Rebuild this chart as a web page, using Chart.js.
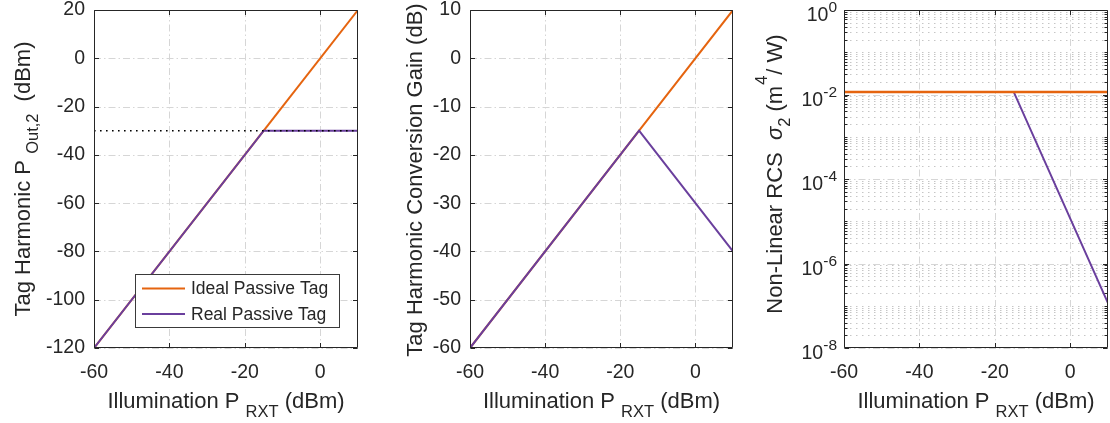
<!DOCTYPE html>
<html><head><meta charset="utf-8">
<script src="https://cdn.jsdelivr.net/npm/chart.js@4.4.1/dist/chart.umd.min.js"></script>
<style>
html,body{margin:0;padding:0;background:#fff;}
#wrap{position:relative;width:1110px;height:423px;overflow:hidden;background:#fff;}
canvas{position:absolute;top:0;}
</style></head><body>
<div id="wrap">
<canvas id="c1" width="370" height="423" style="left:0px"></canvas>
<canvas id="c2" width="370" height="423" style="left:370px"></canvas>
<canvas id="c3" width="370" height="423" style="left:740px"></canvas>
</div>
<script>
// Illumination sweep (dBm): start, compression knee, end
const illumination = [-60, -15, 10];

// Harmonic output power (dBm)
const poutIdeal = [-120, -30, 20];
const poutReal = [-120, -30, -30];
// Saturation level reference (dBm), spanning the whole sweep
const saturationX = [-60, 10];
const saturationY = [-30, -30];

// Harmonic conversion gain (dB)
const gainIdeal = [-60, -15, 10];
const gainReal = [-60, -15, -40];

// Non-linear RCS sigma_2 (m^4/W)
const rcsIdeal = [0.0115, 0.0115, 0.0115];
const rcsReal = [0.0115, 0.0115, 1.15e-7];

// Tick values
const xTickValues = [-60, -40, -20, 0];
const poutTickValues = [-120, -100, -80, -60, -40, -20, 0, 20];
const gainTickValues = [-60, -50, -40, -30, -20, -10, 0, 10];
const rcsTickExponents = [0, -2, -4, -6, -8];

const legendLabels = ['Ideal Passive Tag', 'Real Passive Tag'];

const ORANGE = '#E5640F';
const PURPLE = '#6A3F9D';
const INK = '#262626';
const FONT = '"Liberation Sans", Arial, Helvetica, sans-serif';
const TICK_SIZE = 19.5;
const LABEL_SIZE = 22;
const SUB_SIZE = 16.5;

function pts(xs, ys) { return xs.map((x, i) => ({ x: x, y: ys[i] })); }

function fontStr(p) {
  return (p.italic ? 'italic ' : '') + (p.size || LABEL_SIZE) + 'px ' + FONT;
}

// Draw a run of text pieces (with sub/superscripts) centred on (cx, cy), baseline at cy
function drawRich(ctx, parts, cx, cy, rotated) {
  ctx.save();
  ctx.translate(cx, cy);
  if (rotated) ctx.rotate(-Math.PI / 2);
  ctx.fillStyle = INK;
  ctx.textAlign = 'left';
  ctx.textBaseline = 'alphabetic';
  let total = 0;
  const widths = parts.map(p => {
    ctx.font = fontStr(p);
    const w = (p.t ? ctx.measureText(p.t).width : 0) + (p.gap || 0);
    total += w;
    return w;
  });
  let x = -total / 2;
  parts.forEach((p, i) => {
    ctx.font = fontStr(p);
    if (p.t) ctx.fillText(p.t, x, p.shift || 0);
    x += widths[i];
  });
  ctx.restore();
}

function dashedLine(ctx, x1, y1, x2, y2, dash, color, w) {
  ctx.save();
  ctx.beginPath();
  ctx.setLineDash(dash);
  ctx.strokeStyle = color;
  ctx.lineWidth = w || 1;
  ctx.moveTo(x1, y1);
  ctx.lineTo(x2, y2);
  ctx.stroke();
  ctx.restore();
}

const xLabelParts = [
  { t: 'Illumination P ' },
  { t: 'RXT', size: SUB_SIZE, shift: 9 },
  { t: ' (dBm)' }
];

function makeChart(id, cfg) {
  const isLog = cfg.yType === 'logarithmic';
  const axesPlugin = {
    id: 'axesDecor',
    beforeDatasetsDraw(chart) {
      const { ctx, chartArea: a, scales } = chart;
      const xs = scales.x, ys = scales.y;
      const GRID_DASHDOT = [7, 3, 1.5, 3];
      // minor grid for log axis
      if (isLog) {
        for (let e = -8; e < 0; e++) {
          for (let m = 1; m <= 9; m++) {
            const v = m * Math.pow(10, e);
            if (m === 1 && rcsTickExponents.includes(e)) continue;
            const py = Math.round(ys.getPixelForValue(v)) + 0.5;
            dashedLine(ctx, a.left, py, a.right, py, [1.5, 4.5], '#c6c6c6', 1);
          }
        }
      }
      xTickValues.forEach(v => {
        const px = Math.round(xs.getPixelForValue(v)) + 0.5;
        dashedLine(ctx, px, a.top, px, a.bottom, GRID_DASHDOT, '#d6d6d6', 1);
      });
      cfg.yGrid.forEach(v => {
        const py = Math.round(ys.getPixelForValue(v)) + 0.5;
        dashedLine(ctx, a.left, py, a.right, py, GRID_DASHDOT, '#d6d6d6', 1);
      });
    },
    afterDatasetsDraw(chart) {
      const { ctx, chartArea: a, scales } = chart;
      const xs = scales.x, ys = scales.y;
      ctx.save();
      ctx.strokeStyle = INK;
      ctx.lineWidth = 1;
      ctx.setLineDash([]);
      ctx.beginPath();
      const L = Math.round(a.left) + 0.5, R = Math.round(a.right) - 0.5;
      const T = Math.round(a.top) + 0.5, B = Math.round(a.bottom) - 0.5;
      ctx.rect(L, T, R - L, B - T);
      // inward tick marks on all four sides
      const TL = 4.5;
      xTickValues.forEach(v => {
        const px = Math.round(xs.getPixelForValue(v)) + 0.5;
        ctx.moveTo(px, B); ctx.lineTo(px, B - TL);
        ctx.moveTo(px, T); ctx.lineTo(px, T + TL);
      });
      cfg.yGrid.forEach(v => {
        const py = Math.round(ys.getPixelForValue(v)) + 0.5;
        ctx.moveTo(L, py); ctx.lineTo(L + TL, py);
        ctx.moveTo(R, py); ctx.lineTo(R - TL, py);
      });
      if (isLog) {
        for (let e = -8; e < 0; e++) {
          for (let m = 1; m <= 9; m++) {
            if (m === 1 && rcsTickExponents.includes(e)) continue;
            const py = Math.round(ys.getPixelForValue(m * Math.pow(10, e))) + 0.5;
            ctx.moveTo(L, py); ctx.lineTo(L + 3, py);
            ctx.moveTo(R, py); ctx.lineTo(R - 3, py);
          }
        }
      }
      ctx.stroke();
      ctx.restore();

      // power-of-ten tick labels for the log axis
      if (isLog) {
        ctx.save();
        ctx.fillStyle = INK;
        ctx.textBaseline = 'alphabetic';
        ctx.textAlign = 'left';
        rcsTickExponents.forEach(e => {
          const py = ys.getPixelForValue(Math.pow(10, e));
          const sup = String(e);
          ctx.font = '15.5px ' + FONT;
          const ws = ctx.measureText(sup).width;
          ctx.font = TICK_SIZE + 'px ' + FONT;
          const wb = ctx.measureText('10').width;
          const right = a.left - 7;
          ctx.fillText('10', right - ws - wb, py + 11);
          ctx.font = '15.5px ' + FONT;
          ctx.fillText(sup, right - ws, py + 2);
        });
        ctx.restore();
      }

      // legend box
      if (cfg.legend) {
        const lg = cfg.legend;
        ctx.save();
        ctx.fillStyle = '#fff';
        ctx.fillRect(lg.x, lg.y, lg.w, lg.h);
        ctx.strokeStyle = '#3a3a3a';
        ctx.lineWidth = 1;
        ctx.strokeRect(lg.x + 0.5, lg.y + 0.5, lg.w - 1, lg.h - 1);
        ctx.font = '17.5px ' + FONT;
        ctx.textBaseline = 'middle';
        ctx.textAlign = 'left';
        legendLabels.forEach((lab, i) => {
          const yy = lg.y + 14.5 + i * 25.5;
          ctx.strokeStyle = [ORANGE, PURPLE][i];
          ctx.lineWidth = 2;
          ctx.beginPath();
          ctx.moveTo(lg.x + 7, yy); ctx.lineTo(lg.x + 50, yy);
          ctx.stroke();
          ctx.fillStyle = INK;
          ctx.fillText(lab, lg.x + 56, yy + 1);
        });
        ctx.restore();
      }
    },
    afterDraw(chart) {
      const { ctx, chartArea: a } = chart;
      drawRich(ctx, xLabelParts, (a.left + a.right) / 2, 408, false);
      drawRich(ctx, cfg.yLabel, cfg.yLabelX, cfg.yLabelY, true);
    }
  };

  return new Chart(document.getElementById(id), {
    type: 'line',
    data: { datasets: cfg.datasets },
    options: {
      responsive: false,
      animation: false,
      events: [],
      layout: { padding: { left: 0, right: cfg.rightPad, top: 10, bottom: 0 } },
      plugins: { legend: { display: false }, tooltip: { enabled: false } },
      elements: { point: { radius: 0 }, line: { tension: 0, borderCapStyle: 'butt' } },
      scales: {
        x: {
          type: 'linear', min: -60, max: 10,
          grid: { display: false, drawTicks: false },
          border: { display: false },
          afterBuildTicks: s => { s.ticks = xTickValues.map(v => ({ value: v })); },
          afterFit: s => { s.height = 75; s.paddingLeft = 0; s.paddingRight = 0; },
          ticks: {
            autoSkip: false, maxRotation: 0, padding: 13, color: INK,
            font: { family: FONT, size: TICK_SIZE },
            callback: v => String(v)
          }
        },
        y: {
          type: cfg.yType, min: cfg.yMin, max: cfg.yMax,
          grid: { display: false, drawTicks: false },
          border: { display: false },
          afterBuildTicks: s => { s.ticks = cfg.yTicks.map(v => ({ value: v })); },
          afterFit: s => { s.width = cfg.leftWidth; s.paddingTop = 0; s.paddingBottom = 0; },
          ticks: {
            display: !isLog, autoSkip: false, padding: 9, color: INK,
            font: { family: FONT, size: TICK_SIZE },
            callback: v => String(v)
          }
        }
      }
    },
    plugins: [axesPlugin]
  });
}

// Harmonic output power
makeChart('c1', {
  yType: 'linear', yMin: -120, yMax: 20,
  yTicks: poutTickValues, yGrid: poutTickValues,
  leftWidth: 94, rightPad: 12,
  datasets: [
    { label: 'Saturation', data: pts(saturationX, saturationY), borderColor: '#000', borderWidth: 1.6, borderDash: [1.6, 4.4], order: 0 },
    { label: legendLabels[1], data: pts(illumination, poutReal), borderColor: PURPLE, borderWidth: 2, order: 1 },
    { label: legendLabels[0], data: pts(illumination, poutIdeal), borderColor: ORANGE, borderWidth: 2, order: 2 }
  ],
  legend: { x: 135, y: 274, w: 205, h: 54 },
  yLabel: [
    { t: 'Tag Harmonic P ' },
    { t: 'Out,2', size: SUB_SIZE, shift: 8, gap: 6 },
    { t: ' (dBm)' }
  ],
  yLabelX: 30, yLabelY: 179
});

// Harmonic conversion gain
makeChart('c2', {
  yType: 'linear', yMin: -60, yMax: 10,
  yTicks: gainTickValues, yGrid: gainTickValues,
  leftWidth: 100, rightPad: 7,
  datasets: [
    { label: legendLabels[1], data: pts(illumination, gainReal), borderColor: PURPLE, borderWidth: 2, order: 1 },
    { label: legendLabels[0], data: pts(illumination, gainIdeal), borderColor: ORANGE, borderWidth: 2, order: 2 }
  ],
  yLabel: [ { t: 'Tag Harmonic Conversion Gain (dB)' } ],
  yLabelX: 52, yLabelY: 180
});

// Non-linear radar cross section
makeChart('c3', {
  yType: 'logarithmic', yMin: 1e-8, yMax: 1,
  yTicks: rcsTickExponents.map(e => Math.pow(10, e)),
  yGrid: rcsTickExponents.map(e => Math.pow(10, e)),
  leftWidth: 104, rightPad: 2,
  datasets: [
    { label: legendLabels[0], data: pts(illumination, rcsIdeal), borderColor: ORANGE, borderWidth: 2.5, order: 0 },
    { label: legendLabels[1], data: pts(illumination, rcsReal), borderColor: PURPLE, borderWidth: 2, order: 1 }
  ],
  yLabel: [
    { t: 'Non-Linear RCS  ' },
    { t: 'σ', italic: true },
    { t: '2', size: SUB_SIZE, shift: 8 },
    { t: ' (m', gap: 1 },
    { t: '4', size: SUB_SIZE, shift: -15, gap: 1 },
    { t: '/ W)' }
  ],
  yLabelX: 42, yLabelY: 174
});
</script>
</body></html>
